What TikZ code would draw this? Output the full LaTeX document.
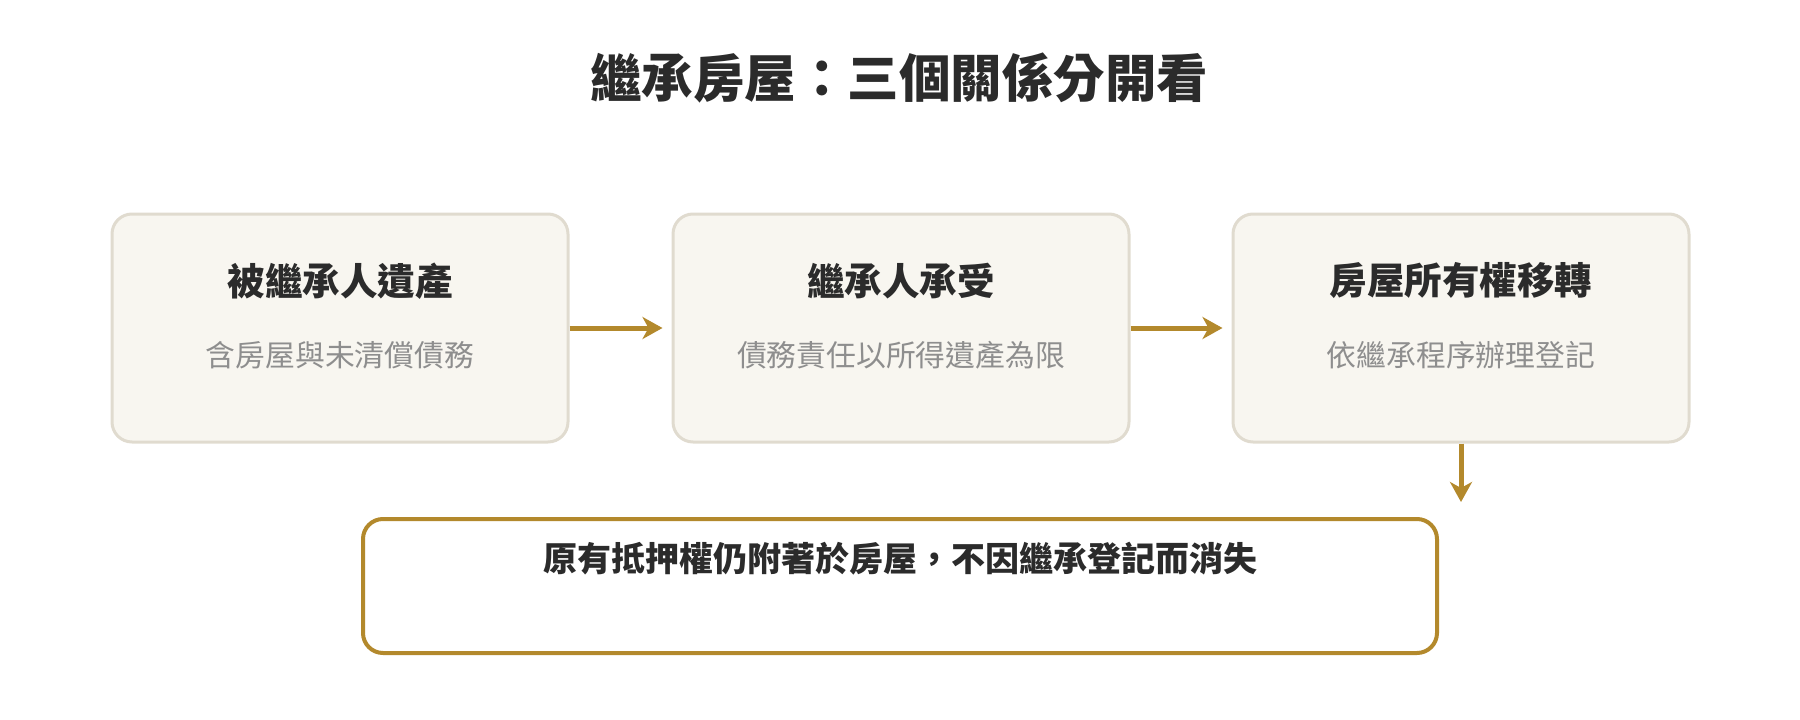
\documentclass[tikz,border=0pt]{standalone}
\usepackage{fontspec}
\setmainfont{Noto Sans CJK TC}
\usetikzlibrary{arrows.meta}
\definecolor{boxfill}{HTML}{F8F6F0}
\definecolor{boxline}{HTML}{E0DBCF}
\definecolor{gold}{HTML}{B3892C}
\definecolor{ink}{HTML}{2B2B2B}
\definecolor{subink}{HTML}{8E8E8E}
\tikzset{
  stepbox/.style={draw=boxline, line width=3pt, fill=boxfill, rounded corners=20pt,
    minimum width=456pt, minimum height=228pt, inner sep=0pt},
  notebox/.style={draw=gold, line width=4pt, fill=white, rounded corners=20pt,
    minimum width=1074pt, minimum height=134pt, inner sep=0pt},
  head/.style={text=ink, font=\fontsize{37.5}{44}\selectfont\bfseries, inner sep=0pt},
  sub/.style={text=subink, font=\fontsize{29.8}{36}\selectfont, inner sep=0pt},
  note/.style={text=ink, font=\fontsize{34}{40}\selectfont\bfseries, inner sep=0pt},
  titletext/.style={text=ink, font=\fontsize{51.5}{60}\selectfont\bfseries, inner sep=0pt},
  arr/.style={draw=gold, line width=5pt, -{Stealth[length=20pt,width=22pt,inset=6pt]}},
}
\begin{document}
\begin{tikzpicture}[x=1pt,y=-1pt]
\useasboundingbox (0,0) rectangle (1800,720);
\node[titletext] (title) at (899,78) {繼承房屋：三個關係分開看};
\node[stepbox] (b1) at (340,328) {};
\node[stepbox] (b2) at (901,328) {};
\node[stepbox] (b3) at (1461,328) {};
\node[head] (h1) at (340,281) {被繼承人遺產};
\node[sub]  (s1) at (340,355) {含房屋與未清償債務};
\node[head] (h2) at (901,281) {繼承人承受};
\node[sub]  (s2) at (901,355) {債務責任以所得遺產為限};
\node[head] (h3) at (1461,281) {房屋所有權移轉};
\node[sub]  (s3) at (1461,355) {依繼承程序辦理登記};
\node[notebox] (nb) at (900,586) {};
\node[note] (nt) at (900,559) {原有抵押權仍附著於房屋，不因繼承登記而消失};
\draw[arr, shorten >=9pt] (b1.east) -- (b2.west);
\draw[arr, shorten >=9pt] (b2.east) -- (b3.west);
\coordinate (dend) at (1461,502);
\draw[arr] (b3.south) -- (dend);
\end{tikzpicture}
\end{document}
